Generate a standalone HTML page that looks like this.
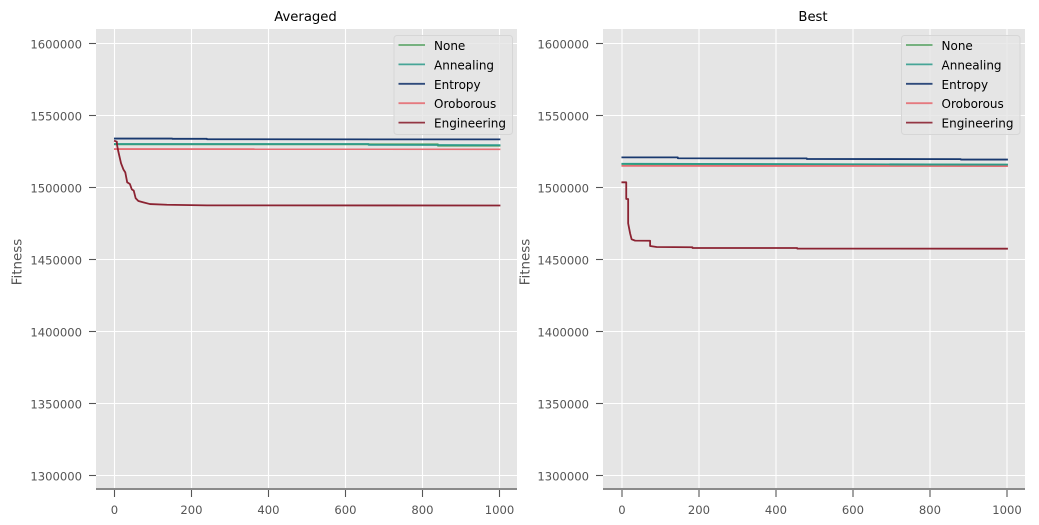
<!DOCTYPE html>
<html>
<head>
<meta charset="utf-8">
<style>
html,body{margin:0;padding:0;background:#fff;width:1039px;height:525px;overflow:hidden}
svg{display:block;font-family:"DejaVu Sans","Liberation Sans",sans-serif}
</style>
</head>
<body>
<svg id="chart" width="1039" height="525" viewBox="0 0 1039 525" xmlns="http://www.w3.org/2000/svg"></svg>
<script>
var seriesNames = ['None', 'Annealing', 'Entropy', 'Oroborous', 'Engineering'];
var seriesColors = ['#4f9f5c', '#2a9a8a', '#0e2f68', '#e5666d', '#861828'];
var xTicks = [0, 200, 400, 600, 800, 1000];
var yTicks = [1300000, 1350000, 1400000, 1450000, 1500000, 1550000, 1600000];

var avgGens = {
  none: [1, 840, 840, 1000],
  annealing: [1, 660, 660, 1000],
  entropy: [1, 150, 150, 240, 240, 1000],
  oroborous: [1, 1000],
  engineering: [1, 6, 7, 10, 17, 23, 28, 33, 40, 45, 50, 55, 62, 75, 92, 136, 240, 1000]
};
var avgValues = {
  none: [1530000, 1530000, 1529000, 1529000],
  annealing: [1530200, 1530200, 1529600, 1529400],
  entropy: [1534000, 1534000, 1533800, 1533800, 1533500, 1533400],
  oroborous: [1526700, 1526600],
  engineering: [1532300, 1531800, 1529000, 1524900, 1516800, 1512600, 1510500, 1503600, 1502400, 1498700, 1497800, 1492500, 1490600, 1489700, 1488500, 1488000, 1487600, 1487500]
};
var bestGens = {
  none: [1, 1000],
  annealing: [1, 1000],
  entropy: [1, 145, 145, 480, 480, 880, 880, 1000],
  oroborous: [1, 1000],
  engineering: [1, 11, 11, 16, 16, 21, 25, 34, 73, 73, 90, 183, 183, 455, 455, 1000]
};
var bestValues = {
  none: [1516300, 1515900],
  annealing: [1516500, 1515900],
  entropy: [1520900, 1520900, 1520300, 1520200, 1519800, 1519700, 1519400, 1519400],
  oroborous: [1515000, 1514900],
  engineering: [1503600, 1503600, 1492000, 1492000, 1475100, 1468200, 1464000, 1463100, 1463000, 1459400, 1458700, 1458500, 1458000, 1458000, 1457600, 1457500]
};
var seriesKeys = ['none', 'annealing', 'entropy', 'oroborous', 'engineering'];

var svg = document.getElementById('chart');
var NS = 'http://www.w3.org/2000/svg';

function make(tag, attrs, text) {
  var el = document.createElementNS(NS, tag);
  for (var k in attrs) el.setAttribute(k, attrs[k]);
  if (text !== undefined) el.textContent = text;
  return el;
}

function drawPanel(title, gens, values, panelLeft, panelRight, x0, legendLeft, labelX) {
  var top = 29, bottom = 489;
  var pxPerGen = 0.385, pxPerFit = 0.00144;
  function xScale(v) { return x0 + v * pxPerGen; }
  function yScale(v) { return 475.5 - (v - 1300000) * pxPerFit; }

  var group = make('g', {});
  
  
  svg.appendChild(group);

  var bg = make('rect', {x: panelLeft, y: top, width: panelRight - panelLeft, height: bottom - top, fill: '#e5e5e5'});
  
  
  group.appendChild(bg);

  xTicks.forEach(function (t) {
    var px = xScale(t);
    var grid = make('line', {x1: px, x2: px, y1: top, y2: bottom, stroke: '#fff', 'stroke-width': 1.1});
    
    
    group.appendChild(grid);
    var tick = make('line', {x1: px, x2: px, y1: bottom, y2: 497, stroke: '#555', 'stroke-width': 1.1});
    
    
    group.appendChild(tick);
    var label = make('text', {x: px, y: 514, 'text-anchor': 'middle', 'font-size': 11.6, fill: '#555'}, String(t));
    
    
    group.appendChild(label);
  });

  yTicks.forEach(function (t) {
    var py = yScale(t);
    var grid = make('line', {x1: panelLeft, x2: panelRight, y1: py, y2: py, stroke: '#fff', 'stroke-width': 1.1});
    
    
    group.appendChild(grid);
    var tick = make('line', {x1: panelLeft - 7, x2: panelLeft, y1: py, y2: py, stroke: '#555', 'stroke-width': 1.1});
    
    
    group.appendChild(tick);
    var label = make('text', {x: panelLeft - 14, y: py + 5, 'text-anchor': 'end', 'font-size': 11.6, fill: '#555'}, String(t));
    
    
    group.appendChild(label);
  });

  var spine = make('line', {x1: panelLeft, x2: panelRight, y1: bottom, y2: bottom, stroke: '#8a8a8a', 'stroke-width': 2});
  
  
  group.appendChild(spine);

  seriesKeys.forEach(function (key, i) {
    var pts = gens[key].map(function (g, j) {
      return xScale(g).toFixed(2) + ',' + yScale(values[key][j]).toFixed(2);
    }).join(' ');
    var line = make('polyline', {points: pts, fill: 'none', stroke: seriesColors[i], 'stroke-width': 1.8, 'stroke-linejoin': 'round', 'stroke-linecap': 'square', 'stroke-opacity': 0.95});
    
    
    group.appendChild(line);
  });

  var titleEl = make('text', {x: (panelLeft + panelRight) / 2 - 1, y: 21, 'text-anchor': 'middle', 'font-size': 13.2, fill: '#000'}, title);
  
  
  group.appendChild(titleEl);

  var yTitle = make('text', {x: labelX, y: 262, 'text-anchor': 'middle', 'font-size': 13.4, fill: '#555', transform: 'rotate(-90 ' + labelX + ' 262)'}, 'Fitness');
  
  
  group.appendChild(yTitle);

  var legend = make('g', {});
  
  
  group.appendChild(legend);
  var box = make('rect', {x: legendLeft, y: 35.5, width: 118.5, height: 99, rx: 3, fill: '#e5e5e5', 'fill-opacity': 0.8, stroke: '#d6d6d6', 'stroke-width': 1});
  
  
  legend.appendChild(box);

  seriesNames.forEach(function (name, i) {
    var rowY = 45 + i * 19.4;
    var key = make('line', {x1: legendLeft + 4.5, x2: legendLeft + 31, y1: rowY, y2: rowY, stroke: seriesColors[i], 'stroke-width': 1.8, 'stroke-opacity': 0.85});
    
    
    legend.appendChild(key);
    var text = make('text', {x: legendLeft + 40, y: rowY + 5, 'font-size': 12, fill: '#000'}, name);
    
    
    legend.appendChild(text);
  });
}

drawPanel('Averaged', avgGens, avgValues, 96, 517, 114.5, 394, 21.5);
drawPanel('Best', bestGens, bestValues, 603, 1025, 622, 901.5, 529.5);
</script>
</body>
</html>
